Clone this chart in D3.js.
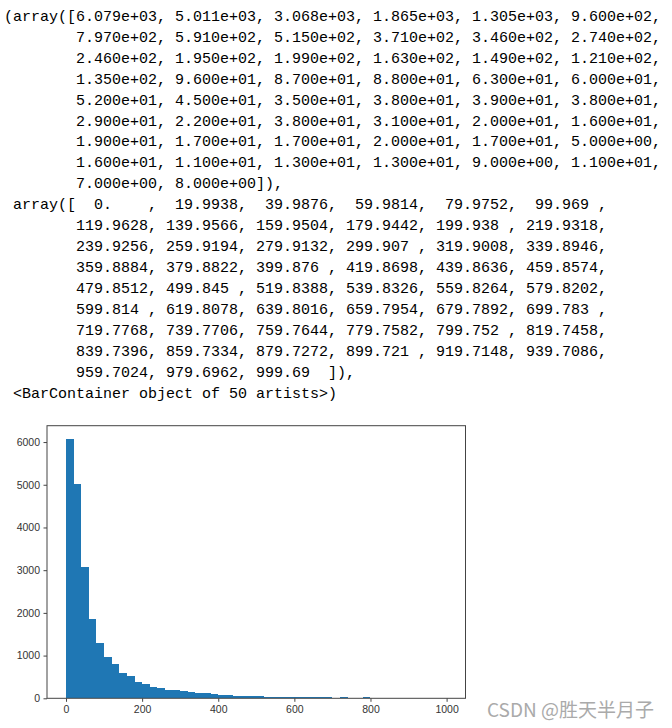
<!DOCTYPE html>
<html>
<head>
<meta charset="utf-8">
<script src="https://cdn.jsdelivr.net/npm/d3@7"></script>
<style>
  body { margin: 0; background: #fff; }
  .out { font-family: "Liberation Mono", monospace; font-size: 15px; fill: #000; white-space: pre; }
  .tick text { font-family: "Liberation Sans", Arial, sans-serif; font-size: 10.5px; fill: #333; }
</style>
</head>
<body>
<svg id="chart" width="672" height="728"></svg>
<script>
// bin counts from plt.hist (50 bins)
const counts = [
  6079, 5011, 3068, 1865, 1305, 960,
  797, 591, 515, 371, 346, 274,
  246, 195, 199, 163, 149, 121,
  135, 96, 87, 88, 63, 60,
  52, 45, 35, 38, 39, 38,
  29, 22, 38, 31, 20, 16,
  19, 17, 17, 20, 17, 5,
  16, 11, 13, 13, 9, 11,
  7, 8
];
// bin edges as printed
const edges = [
  0, 19.9938, 39.9876, 59.9814, 79.9752, 99.969,
  119.9628, 139.9566, 159.9504, 179.9442, 199.938, 219.9318,
  239.9256, 259.9194, 279.9132, 299.907, 319.9008, 339.8946,
  359.8884, 379.8822, 399.876, 419.8698, 439.8636, 459.8574,
  479.8512, 499.845, 519.8388, 539.8326, 559.8264, 579.8202,
  599.814, 619.8078, 639.8016, 659.7954, 679.7892, 699.783,
  719.7768, 739.7706, 759.7644, 779.7582, 799.752, 819.7458,
  839.7396, 859.7334, 879.7272, 899.721, 919.7148, 939.7086,
  959.7024, 979.6962, 999.69
];
const xTicks = [0, 200, 400, 600, 800, 1000];
const yTicks = [0, 1000, 2000, 3000, 4000, 5000, 6000];
const watermark = "CSDN @胜天半月子";

const svg = d3.select("#chart");

//numpy-style formatting
function sci(v) {
  const [m, e] = v.toExponential(3).split("e");
  const sign = e[0] === "-" ? "-" : "+";
  return m + "e" + sign + e.replace(/[+-]/, "").padStart(2, "0");
}
function fix(v) {
  const s = v.toFixed(4).replace(/0+$/, "");
  const [ip, dp] = s.split(".");
  return ip.padStart(3) + "." + dp.padEnd(4);
}
function arrayLines(vals, fmt, first, close) {
  const out = [];
  for (let i = 0; i < vals.length; i += 6) {
    const row = vals.slice(i, i + 6).map(fmt).join(", ");
    const last = i + 6 >= vals.length;
    out.push((i === 0 ? first : "        ") + row + (last ? close : ","));
  }
  return out;
}

const lines = [
  ...arrayLines(counts, sci, "(array([", "]),"),
  ...arrayLines(edges, fix, " array([", "]),"),
  " <BarContainer object of 50 artists>)"
];

svg.append("g").selectAll("text")
  .data(lines)
  .join("text")
  .attr("class", "out")
  .attr("x", 4)
  .attr("y", (d, i) => 20.8 + i * 20.94)
  .text(d => d);

//histogram axes
const plotL = 47, plotR = 465.5, plotT = 425.7, plotB = 698.3;
const span = edges[edges.length - 1] - edges[0];
const x = d3.scaleLinear()
  .domain([edges[0] - span * 0.05, edges[edges.length - 1] + span * 0.05])
  .range([plotL, plotR]);
const y = d3.scaleLinear()
  .domain([0, d3.max(counts) * 1.05])
  .range([plotB, plotT]);

const bins = counts.map((c, i) => ({ x0: edges[i], x1: edges[i + 1], c }));

//bars, crisp so neighbours touch with no seam
svg.append("g")
  .attr("shape-rendering", "crispEdges")
  .selectAll("rect")
  .data(bins)
  .join("rect")
  .attr("x", d => x(d.x0))
  .attr("width", d => x(d.x1) - x(d.x0))
  .attr("y", d => y(d.c))
  .attr("height", d => plotB - y(d.c))
  .attr("fill", "#1f77b4");

const xAxis = svg.append("g")
  .attr("transform", `translate(0,${plotB})`)
  .call(d3.axisBottom(x).tickValues(xTicks).tickFormat(d3.format("d")).tickSize(3.5).tickPadding(3.5));
const yAxis = svg.append("g")
  .attr("transform", `translate(${plotL},0)`)
  .call(d3.axisLeft(y).tickValues(yTicks).tickFormat(d3.format("d")).tickSize(3.5).tickPadding(3.5));
[xAxis, yAxis].forEach(a => {
  a.select(".domain").remove();
  a.selectAll(".tick line").attr("stroke", "#444");
});

//frame
svg.append("rect")
  .attr("x", plotL).attr("y", plotT)
  .attr("width", plotR - plotL).attr("height", plotB - plotT)
  .attr("fill", "none")
  .attr("stroke", "#444")
  .attr("stroke-width", 1);

svg.append("text")
  .attr("x", 487)
  .attr("y", 717)
  .attr("font-family", "'Noto Sans CJK SC', sans-serif")
  .attr("font-size", "19px")
  .attr("fill", "#aaa")
  .text(watermark);
</script>
</body>
</html>
